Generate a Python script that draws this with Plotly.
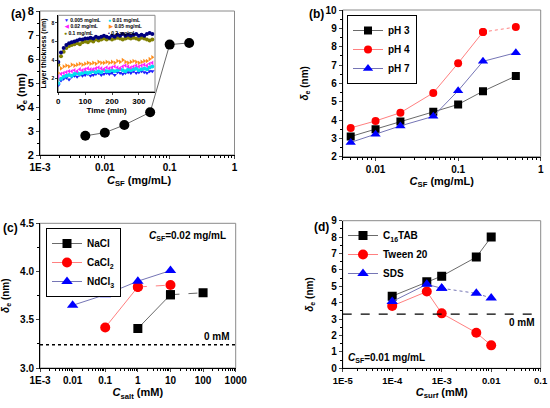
import plotly.graph_objects as go

# ---- (a) main panel: equilibrium thickness vs SF concentration
conc_a = [0.005, 0.01, 0.02, 0.05, 0.1, 0.2]
delta_a = [2.8, 2.93, 3.25, 3.78, 6.6, 6.67]

# ---- (a) inset: layer thickness vs time, one list per concentration
time_min = [0, 10, 20, 30, 40, 50, 60, 70, 80, 90, 100, 110, 120, 130, 140, 150, 160, 170,
            180, 190, 200, 210, 220, 230, 240, 250, 260, 270, 280, 290, 300, 310, 320, 330, 340, 350]
th_0005 = [1.3, 1.8, 2.0, 2.1, 1.9, 2.2, 2.3, 2.2, 2.4, 2.3, 2.4, 2.5, 2.3, 2.4, 2.5, 2.6, 2.4, 2.5,
           2.6, 2.5, 2.6, 2.4, 2.7, 2.6, 2.5, 2.6, 2.7, 2.6, 2.8, 2.6, 2.7, 2.8, 2.7, 2.6, 2.8, 2.8]
th_001 = [1.5, 2.0, 2.2, 2.3, 2.4, 2.3, 2.5, 2.6, 2.5, 2.6, 2.7, 2.6, 2.7, 2.8, 2.7, 2.8, 2.7, 2.9,
          2.8, 2.8, 2.9, 2.8, 2.9, 3.0, 2.9, 2.8, 3.0, 2.9, 3.0, 3.1, 2.9, 3.0, 3.1, 3.0, 3.2, 3.3]
th_002 = [2.2, 2.5, 2.6, 2.7, 2.8, 2.8, 2.9, 2.8, 3.0, 2.9, 3.0, 3.1, 3.0, 3.0, 3.1, 3.2, 3.1, 3.0,
          3.2, 3.1, 3.2, 3.3, 3.2, 3.1, 3.3, 3.4, 3.3, 3.2, 3.3, 3.4, 3.3, 3.4, 3.5, 3.4, 3.6, 3.7]
th_005 = [2.6, 3.1, 3.3, 3.4, 3.3, 3.5, 3.4, 3.5, 3.6, 3.5, 3.6, 3.7, 3.6, 3.7, 3.6, 3.8, 3.7, 3.7,
          3.8, 3.7, 3.8, 3.7, 3.9, 3.8, 4.0, 3.8, 3.7, 3.8, 3.9, 3.8, 3.7, 3.8, 3.9, 3.9, 4.1, 4.3]
th_01 = [3.5, 4.4, 4.9, 5.3, 5.5, 5.6, 5.7, 5.8, 5.7, 5.9, 6.0, 5.9, 6.1, 6.0, 6.2, 6.1, 6.2, 6.3,
         6.2, 6.3, 6.2, 6.3, 6.4, 6.3, 6.2, 6.3, 6.4, 6.3, 6.4, 6.3, 6.2, 6.4, 6.3, 6.2, 6.1, 6.2]
th_02 = [3.8, 4.8, 5.3, 5.6, 5.8, 5.9, 6.0, 6.1, 6.2, 6.2, 6.3, 6.3, 6.4, 6.3, 6.5, 6.4, 6.5, 6.6,
         6.5, 6.4, 6.6, 6.5, 6.7, 6.6, 6.8, 6.6, 6.7, 6.6, 6.7, 6.8, 6.6, 6.7, 6.6, 6.8, 6.9, 6.8]
inset_labels = ['0.005 mg/mL', '0.01 mg/mL', '0.02 mg/mL', '0.05 mg/mL', '0.1 mg/mL', '0.2 mg/mL']

# ---- (b) pH series
conc_b = [0.005, 0.01, 0.02, 0.05, 0.1, 0.2, 0.5]
ph3 = [3.1, 3.5, 3.92, 4.45, 4.85, 5.57, 6.4]
ph4 = [3.57, 3.95, 4.4, 5.48, 7.1, 8.8, 9.07]
ph7 = [2.78, 3.22, 3.68, 4.2, 5.6, 7.2, 7.67]

# ---- (c) salts
nacl_x = [1, 10, 100]
nacl_y = [3.41, 3.76, 3.78]
cacl2_x = [0.1, 1, 10]
cacl2_y = [3.42, 3.84, 3.86]
ndcl3_x = [0.01, 0.1, 1, 10]
ndcl3_y = [3.65, 3.76, 3.9, 4.01]
zero_c = 3.24

# ---- (d) surfactants
conc_d = [1e-4, 5e-4, 1e-3, 5e-3, 1e-2]
ctab = [4.4, 5.27, 5.62, 6.78, 8.0]
tween = [3.8, 4.68, 3.35, 2.17, 1.4]
sds = [4.07, 5.12, 4.88, 4.57, 4.28]
zero_d = 3.3

FONT = 'Liberation Sans, Arial, sans-serif'
BLACK, RED, BLUE = '#000000', '#ff0000', '#0000ff'
LBLACK, LRED, LBLUE = '#6a6a6a', '#ff8080', '#7575b5'
DELTA = '<i>δ</i><sub>e</sub> (nm)'
CSF = '<i>C</i><sub>SF</sub> (mg/mL)'


def px_x(p):
  return p / 550.0


def px_y(p):
  return 1 - p / 408.0


def minor_vals(d0, d1):
  return [k * 10 ** d for d in range(d0, d1) for k in range(2, 10)]


def log_axis(dom, lo, hi, vals, texts, anchor, title=None, standoff=0, size=10):
  ax = dict(domain=dom, type='log', range=[lo, hi], anchor=anchor, automargin=True,
            tickvals=vals, ticktext=texts, ticks='outside', ticklen=3,
            showline=True, linecolor='black', linewidth=1, showgrid=False, zeroline=False,
            tickfont=dict(family=FONT, size=size, color='black', weight='bold'),
            minor=dict(tickvals=minor_vals(int(lo) - 1, int(hi) + 1), ticks='outside',
                       ticklen=2, tickcolor='black'))
  if title:
    ax['title'] = dict(text=title, standoff=standoff,
                       font=dict(family=FONT, size=11, color='black', weight='bold'))
  return ax


def lin_axis(dom, rng, anchor, dtick, title=None, fmt=None, size=10):
  ax = dict(domain=dom, range=rng, anchor=anchor, dtick=dtick, ticks='outside', ticklen=3,
            automargin=False,
            showline=True, linecolor='black', linewidth=1, showgrid=False, zeroline=False,
            tickfont=dict(family=FONT, size=size, color='black', weight='bold'),
            minor=dict(dtick=dtick / 2.0, ticks='outside', ticklen=2, tickcolor='black'))
  if fmt:
    ax['tickformat'] = fmt
  if title:
    ax['title'] = dict(text=title,
                       font=dict(family=FONT, size=10, color='black', weight='bold'))
  return ax


fig = go.Figure()

# (a) main
fig.add_trace(go.Scatter(x=conc_a, y=delta_a, mode='lines+markers', xaxis='x', yaxis='y',
                         line=dict(color=LBLACK, width=1), showlegend=False,
                         marker=dict(color=BLACK, size=10)))

# (a) inset
inset_series = [th_0005, th_001, th_002, th_005, th_01, th_02]
inset_colors = ['#1f1fff', '#00e0f0', '#ff20ff', '#ff8c1a', '#808000', '#000080']
inset_symbols = ['triangle-down', 'circle', 'triangle-left', 'triangle-right', 'circle', 'circle']
for ys, c, s in zip(inset_series, inset_colors, inset_symbols):
  fig.add_trace(go.Scatter(x=time_min, y=ys, mode='markers', xaxis='x5', yaxis='y5',
                           showlegend=False, marker=dict(color=c, size=4, symbol=s)))

# (b)
fig.add_trace(go.Scatter(x=conc_b, y=ph3, mode='lines+markers', xaxis='x2', yaxis='y2',
                         name='pH 3', legend='legend', line=dict(color=LBLACK, width=1),
                         marker=dict(color=BLACK, size=8, symbol='square')))
fig.add_trace(go.Scatter(x=conc_b[:-1], y=ph4[:-1], mode='lines+markers', xaxis='x2', yaxis='y2',
                         name='pH 4', legend='legend', line=dict(color=LRED, width=1),
                         marker=dict(color=RED, size=8)))
fig.add_trace(go.Scatter(x=conc_b[-2:], y=ph4[-2:], mode='lines+markers', xaxis='x2', yaxis='y2',
                         showlegend=False, line=dict(color=LRED, width=1, dash='dot'),
                         marker=dict(color=RED, size=8)))
fig.add_trace(go.Scatter(x=conc_b, y=ph7, mode='lines+markers', xaxis='x2', yaxis='y2',
                         name='pH 7', legend='legend', line=dict(color=LBLUE, width=1),
                         marker=dict(color=BLUE, size=9, symbol='triangle-up')))

# (c)
fig.add_trace(go.Scatter(x=nacl_x[:-1], y=nacl_y[:-1], mode='lines+markers', xaxis='x3', yaxis='y3',
                         name='NaCl', legend='legend2', line=dict(color=LBLACK, width=1),
                         marker=dict(color=BLACK, size=9, symbol='square')))
fig.add_trace(go.Scatter(x=nacl_x[-2:], y=nacl_y[-2:], mode='lines+markers', xaxis='x3', yaxis='y3',
                         showlegend=False, line=dict(color=LBLACK, width=1, dash='dash'),
                         marker=dict(color=BLACK, size=9, symbol='square')))
fig.add_trace(go.Scatter(x=cacl2_x[:-1], y=cacl2_y[:-1], mode='lines+markers', xaxis='x3', yaxis='y3',
                         name='CaCl<sub>2</sub>', legend='legend2', line=dict(color=LRED, width=1),
                         marker=dict(color=RED, size=10)))
fig.add_trace(go.Scatter(x=cacl2_x[-2:], y=cacl2_y[-2:], mode='lines+markers', xaxis='x3', yaxis='y3',
                         showlegend=False, line=dict(color=LRED, width=1, dash='dash'),
                         marker=dict(color=RED, size=10)))
fig.add_trace(go.Scatter(x=ndcl3_x, y=ndcl3_y, mode='lines+markers', xaxis='x3', yaxis='y3',
                         name='NdCl<sub>3</sub>', legend='legend2', line=dict(color=LBLUE, width=1),
                         marker=dict(color=BLUE, size=10, symbol='triangle-up')))

# (d)
fig.add_trace(go.Scatter(x=conc_d, y=ctab, mode='lines+markers', xaxis='x4', yaxis='y4',
                         name='C<sub>16</sub>TAB', legend='legend3', line=dict(color=LBLACK, width=1),
                         marker=dict(color=BLACK, size=9, symbol='square')))
fig.add_trace(go.Scatter(x=conc_d, y=tween, mode='lines+markers', xaxis='x4', yaxis='y4',
                         name='Tween 20', legend='legend3', line=dict(color=LRED, width=1),
                         marker=dict(color=RED, size=10)))
fig.add_trace(go.Scatter(x=conc_d[:3], y=sds[:3], mode='lines+markers', xaxis='x4', yaxis='y4',
                         name='SDS', legend='legend3', line=dict(color=LBLUE, width=1),
                         marker=dict(color=BLUE, size=10, symbol='triangle-up')))
fig.add_trace(go.Scatter(x=conc_d[2:], y=sds[2:], mode='lines+markers', xaxis='x4', yaxis='y4',
                         showlegend=False, line=dict(color=LBLUE, width=1, dash='dot'),
                         marker=dict(color=BLUE, size=10, symbol='triangle-up')))

dom_a_x = [px_x(40), px_x(234.5)]
dom_a_y = [px_y(155), px_y(11)]
dom_b_x = [px_x(342.7), px_x(540.7)]
dom_b_y = [px_y(156.7), px_y(10)]
dom_c_x = [px_x(40), px_x(235.7)]
dom_c_y = [px_y(368), px_y(223.3)]
dom_d_x = [px_x(342.7), px_x(540.7)]
dom_d_y = [px_y(368.3), px_y(220.7)]
dom_i_x = [px_x(58.3), px_x(155)]
dom_i_y = [px_y(91.7), px_y(15.3)]

layout = dict(
  width=550, height=408, margin=dict(l=0, r=0, t=0, b=0, autoexpand=False),
  paper_bgcolor='white', plot_bgcolor='rgba(0,0,0,0)',
  font=dict(family=FONT, color='black'),
  xaxis=log_axis(dom_a_x, -3, 0, [0.001, 0.01, 0.1, 1], ['1E-3', '0.01', '0.1', '1'], 'y'),
  yaxis=lin_axis(dom_a_y, [2, 8], 'x', 1, size=11),
  xaxis2=log_axis(dom_b_x, -2.398, 0, [0.01, 0.1, 1], ['0.01', '0.1', '1'], 'y2', CSF, 0),
  yaxis2=lin_axis(dom_b_y, [2, 10], 'x2', 1, DELTA),
  xaxis3=log_axis(dom_c_x, -3, 3, [0.001, 0.01, 0.1, 1, 10, 100, 1000],
                  ['1E-3', '0.01', '0.1', '1', '10', '100', '1000'], 'y3',
                  '<i>C</i><sub>salt</sub> (mM)', 3),
  yaxis3=lin_axis(dom_c_y, [3, 4.5], 'x3', 0.5, DELTA, fmt='.1f'),
  xaxis4=log_axis(dom_d_x, -5, -1, [1e-5, 1e-4, 1e-3, 0.01, 0.1],
                  ['1E-5', '1E-4', '1E-3', '0.01', '0.1'], 'y4',
                  '<i>C</i><sub>surf</sub> (mM)', 3, size=9.5),
  yaxis4=lin_axis(dom_d_y, [0, 9], 'x4', 1, DELTA),
  xaxis5=dict(domain=dom_i_x, range=[0, 360], anchor='y5', tickvals=[0, 100, 200, 300],
              automargin=True,
              ticks='outside', ticklen=2, showline=True, linecolor='black', showgrid=False,
              zeroline=False, tickfont=dict(family=FONT, size=8, color='black', weight='bold'),
              title=dict(text='Time (min)', standoff=0,
                         font=dict(family=FONT, size=8, color='black', weight='bold'))),
  yaxis5=dict(domain=dom_i_y, range=[0.6, 8.8], anchor='x5', tickvals=[2, 4, 6, 8],
              automargin=True,
              ticks='outside', ticklen=2, showline=True, linecolor='black', showgrid=False,
              zeroline=False, tickfont=dict(family=FONT, size=5, color='black', weight='bold'),
              title=dict(text='Layer thickness (nm)', standoff=4,
                         font=dict(family=FONT, size=7, color='black', weight='bold'))),
  legend=dict(x=px_x(347), y=px_y(15), xanchor='left', yanchor='top', bgcolor='white',
              bordercolor='black', borderwidth=1, tracegroupgap=0, itemwidth=30,
              font=dict(family=FONT, size=10, color='black', weight='bold')),
  legend2=dict(x=px_x(46), y=px_y(228), xanchor='left', yanchor='top', bgcolor='white',
               bordercolor='black', borderwidth=1, itemwidth=30,
               font=dict(family=FONT, size=10, color='black', weight='bold')),
  legend3=dict(x=px_x(343), y=px_y(221), xanchor='left', yanchor='top', itemwidth=30,
               bgcolor='rgba(0,0,0,0)',
               font=dict(family=FONT, size=10, color='black', weight='bold')),
)
fig.update_layout(**layout)

# gray frame on top/right of every axis box
for xr, yr in [('x', 'y'), ('x2', 'y2'), ('x3', 'y3'), ('x4', 'y4'), ('x5', 'y5')]:
  fig.add_shape(type='rect', xref=xr + ' domain', yref=yr + ' domain', x0=0, x1=1, y0=0, y1=1,
                line=dict(color='#8a8a8a', width=1), layer='below')

# zero-salt / zero-surfactant reference lines
fig.add_shape(type='line', xref='x3 domain', yref='y3', x0=0, x1=1, y0=zero_c, y1=zero_c,
              line=dict(color='black', width=1.5, dash='dot'))
fig.add_shape(type='line', xref='x4 domain', yref='y4', x0=0, x1=1, y0=zero_d, y1=zero_d,
              line=dict(color='black', width=1.2, dash='dash'))

def note(text, x, y, size=10, xanchor='left', angle=0):
  fig.add_annotation(text=text, x=px_x(x), y=px_y(y), xref='paper', yref='paper',
                     showarrow=False, xanchor=xanchor, yanchor='middle', textangle=angle,
                     font=dict(family=FONT, size=size, color='black', weight='bold'))

note('(a)', 9, 14, 12)
note('(b)', 307, 14, 12)
note('(c)', 1, 228, 12)
note('(d)', 312, 227, 12)
# panel (a) axis titles sit closer to their ticks than plotly's defaults
note(DELTA, 22, 92, 11, 'center', -90)
note(CSF, 140, 181, 11, 'center')
note('<i>C</i><sub>SF</sub>=0.02 mg/mL', 147, 236, 10)
note('0 mM', 217, 336, 10, 'center')
note('0 mM', 522, 322, 10, 'center')
note('<i>C</i><sub>SF</sub>=0.01 mg/mL', 346, 358, 10)

# inset legend (two columns of tiny text entries)
glyphs = ['▼', '●', '◀', '▶', '●', '•']
for i, (lab, c, g) in enumerate(zip(inset_labels, inset_colors, glyphs)):
  col, row = i % 2, i // 2
  note("<span style='color:%s'>%s</span> %s" % (c, g, lab), 62 + col * 44, 20 + row * 6.5, 5)

# the page's default body margin would shift the figure by 8px
fig.write_html('out.html', config={'displayModeBar': False},
               post_script="document.body.style.margin='0';")
